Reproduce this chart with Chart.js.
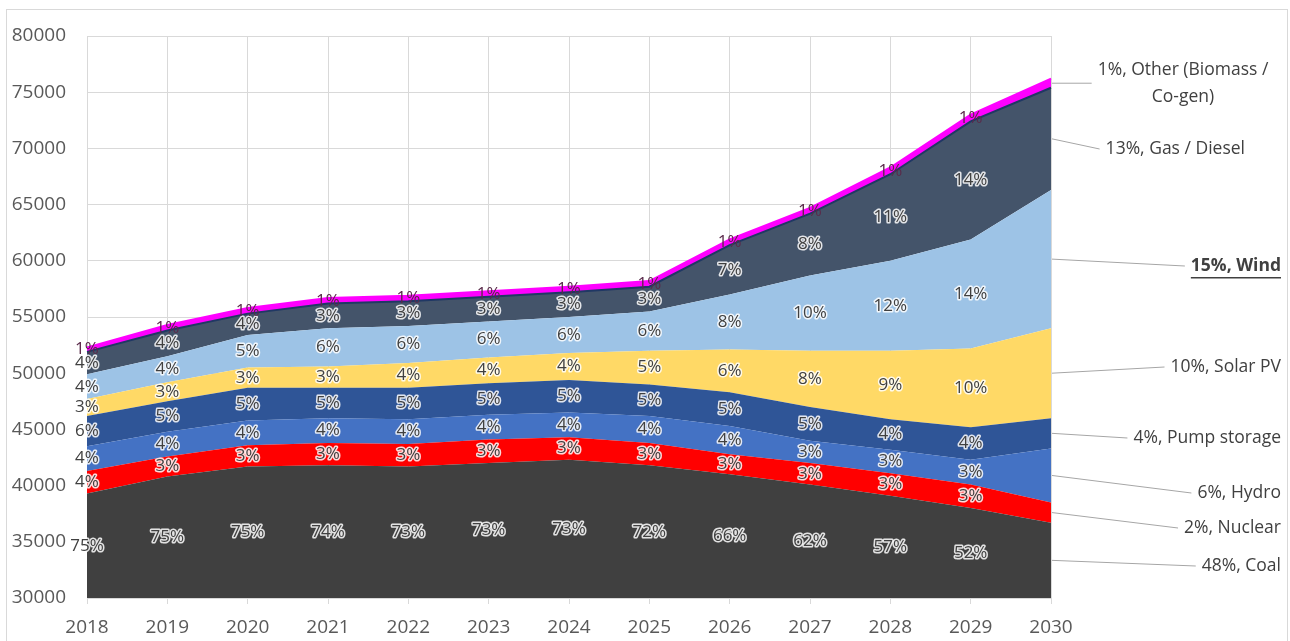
<!DOCTYPE html>
<html>
<head>
<meta charset="utf-8">
<script src="https://cdn.jsdelivr.net/npm/chart.js@4"></script>
<style>
  html, body { margin: 0; padding: 0; background: #fff; }
  #wrap { position: relative; width: 1290px; height: 641px; }
</style>
</head>
<body>
<div id="wrap"><canvas id="capacityChart" width="1290" height="641"></canvas></div>
<script>
const years = ["2018", "2019", "2020", "2021", "2022", "2023", "2024", "2025", "2026", "2027", "2028", "2029", "2030"];

// installed capacity per source (MW), bottom of the stack first
const coal    = [39300, 40800, 41700, 41800, 41700, 42000, 42300, 41800, 41000, 40100, 39100, 38000, 36700];
const nuclear = [ 2000,  1800,  1900,  2000,  2000,  2100,  2000,  2000,  1800,  1900,  2000,  2100,  1800];
const hydro   = [ 2200,  2200,  2200,  2200,  2200,  2200,  2200,  2400,  2500,  2000,  2100,  2200,  4800];
const pump    = [ 2700,  2700,  2900,  2700,  2800,  2800,  2900,  2800,  3000,  3000,  2700,  2900,  2700];
const solar   = [ 1500,  1700,  1800,  1900,  2200,  2300,  2400,  3000,  3800,  5000,  6100,  7000,  8000];
const wind    = [ 2200,  2300,  2900,  3400,  3300,  3200,  3200,  3500,  4900,  6700,  8000,  9700, 12300];
const gas     = [ 2000,  2300,  1900,  2200,  2200,  2200,  2200,  2200,  4400,  5500,  7700, 10500,  9100];
const other   = [  400,   500,   500,   500,   500,   500,   500,   500,   500,   500,   600,   600,   800];

// share labels as printed (%)
const coalPct    = [75, 75, 75, 74, 73, 73, 73, 72, 66, 62, 57, 52, 48];
const nuclearPct = [4, 3, 3, 3, 3, 3, 3, 3, 3, 3, 3, 3, 2];
const hydroPct   = [4, 4, 4, 4, 4, 4, 4, 4, 4, 3, 3, 3, 6];
const pumpPct    = [6, 5, 5, 5, 5, 5, 5, 5, 5, 5, 4, 4, 4];
const solarPct   = [3, 3, 3, 3, 4, 4, 4, 5, 6, 8, 9, 10, 10];
const windPct    = [4, 4, 5, 6, 6, 6, 6, 6, 8, 10, 12, 14, 15];
const gasPct     = [4, 4, 4, 3, 3, 3, 3, 3, 7, 8, 11, 14, 13];
const otherPct   = [1, 1, 1, 1, 1, 1, 1, 1, 1, 1, 1, 1, 1];

const seriesNames = ["Coal", "Nuclear", "Hydro", "Pump storage", "Solar PV", "Wind", "Gas / Diesel", "Other (Biomass / Co-gen)"];
const seriesData = [coal, nuclear, hydro, pump, solar, wind, gas, other];
const seriesPct = [coalPct, nuclearPct, hydroPct, pumpPct, solarPct, windPct, gasPct, otherPct];
const seriesColors = ["#404040", "#ff0000", "#4472c4", "#2f5597", "#ffd966", "#9dc3e6", "#44546a", "#ff00ff"];
const seriesBorders = ["#404040", "#ff0000", "#4472c4", "#2f5597", "#ffd966", "#9dc3e6", "#203864", "#ff00ff"];

const FONT = '"Open Sans", "Noto Sans", sans-serif';

// where the end-of-series labels sit on the right (text layout only)
const endLabels = [
    { series: 0, lines: ["48%, Coal"], right: 1281, y: 566 },
    { series: 1, lines: ["2%, Nuclear"], right: 1281, y: 528 },
    { series: 2, lines: ["6%, Hydro"], right: 1281, y: 493 },
    { series: 3, lines: ["4%, Pump storage"], right: 1281, y: 438 },
    { series: 4, lines: ["10%, Solar PV"], right: 1281, y: 367 },
    { series: 5, lines: ["15%, Wind"], right: 1281, y: 266, bold: true },
    { series: 6, lines: ["13%, Gas / Diesel"], right: 1245, y: 149 },
    { series: 7, lines: ["1%, Other (Biomass /", "Co-gen)"], center: 1183, y: 70, lineGap: 27 }
];

const chartBorder = {
    id: "chartBorder",
    beforeDraw(chart) {
        const ctx = chart.ctx;
        ctx.save();
        ctx.strokeStyle = "#d9d9d9";
        ctx.lineWidth = 1;
        ctx.strokeRect(6.5, 9.5, 1281, 640);
        ctx.restore();
    }
};

function bandMid(chart, i, j) {
    const top = chart.getDatasetMeta(i).data[j].y;
    const bottom = i === 0 ? chart.chartArea.bottom : chart.getDatasetMeta(i - 1).data[j].y;
    return (top + bottom) / 2;
}

const areaLabels = {
    id: "areaLabels",
    afterDatasetsDraw(chart) {
        const ctx = chart.ctx;
        const xScale = chart.scales.x;
        ctx.save();
        ctx.font = "17px " + FONT;
        ctx.textAlign = "center";
        ctx.textBaseline = "middle";
        ctx.lineJoin = "round";
        for (let i = 0; i < seriesData.length; i++) {
            for (let j = 0; j < years.length - 1; j++) {
                const x = xScale.getPixelForValue(j);
                const y = bandMid(chart, i, j);
                const txt = seriesPct[i][j] + "%";
                if (i !== 7) {
                    ctx.lineWidth = 3;
                    ctx.strokeStyle = "rgba(255,255,255,0.85)";
                    ctx.strokeText(txt, x, y);
                }
                ctx.fillStyle = i === 7 ? "#5a2a4a" : "#404040";
                ctx.fillText(txt, x, y);
            }
        }
        ctx.restore();
    },
    afterDraw(chart) {
        const ctx = chart.ctx;
        const last = years.length - 1;
        const xEnd = chart.scales.x.getPixelForValue(last);
        ctx.save();
        ctx.textBaseline = "middle";
        endLabels.forEach(lab => {
            ctx.font = (lab.bold ? "bold " : "") + "17.5px " + FONT;
            const widths = lab.lines.map(t => ctx.measureText(t).width);
            const w = Math.max(...widths);
            let left;
            if (lab.center !== undefined) {
                left = lab.center - w / 2;
            } else {
                left = lab.right - w;
            }
            const startY = bandMid(chart, lab.series, last);
            ctx.strokeStyle = "#a6a6a6";
            ctx.lineWidth = 1;
            ctx.beginPath();
            ctx.moveTo(xEnd + 1, startY);
            const lineY = lab.lines.length > 1 ? startY : lab.y;
            ctx.lineTo(left - 6, lineY);
            ctx.stroke();
            ctx.fillStyle = "#404040";
            lab.lines.forEach((t, k) => {
                const tw = widths[k];
                const tx = lab.center !== undefined ? lab.center - tw / 2 : lab.right - tw;
                const ty = lab.y + k * (lab.lineGap || 0);
                ctx.textAlign = "left";
                ctx.fillText(t, tx, ty);
                if (lab.bold) {
                    ctx.fillRect(tx, ty + 11, tw, 1.5);
                }
            });
        });
        ctx.restore();
    }
};

const canvas = document.getElementById("capacityChart");

new Chart(canvas, {
    type: "line",
    data: {
        labels: years,
        datasets: seriesData.map((d, i) => ({
            label: seriesNames[i],
            data: d,
            backgroundColor: seriesColors[i],
            borderColor: seriesBorders[i],
            borderWidth: i === 6 ? 2 : (i === 7 ? 2 : 0),
            fill: i === 0 ? "start" : "-1",
            pointRadius: 0,
            tension: 0
        }))
    },
    options: {
        responsive: false,
        animation: false,
        events: [],
        layout: { padding: { left: 0, right: 239, top: 36, bottom: 0 } },
        plugins: {
            legend: { display: false },
            tooltip: { enabled: false }
        },
        scales: {
            x: {
                offset: false,
                grid: { color: "#d9d9d9", tickLength: 6 },
                border: { color: "#d9d9d9" },
                ticks: {
                    color: "#595959",
                    font: { family: FONT, size: 19 },
                    padding: 12,
                    maxRotation: 0,
                    autoSkip: false
                },
                afterFit(scale) { scale.height = 43; }
            },
            y: {
                stacked: true,
                min: 30000,
                max: 80000,
                grid: { color: "#d9d9d9", drawTicks: false },
                border: { display: false },
                ticks: {
                    stepSize: 5000,
                    color: "#595959",
                    font: { family: FONT, size: 19 },
                    padding: 21,
                    callback: v => String(v)
                },
                afterFit(scale) { scale.width = 87; }
            }
        }
    },
    plugins: [chartBorder, areaLabels]
});
</script>
</body>
</html>
